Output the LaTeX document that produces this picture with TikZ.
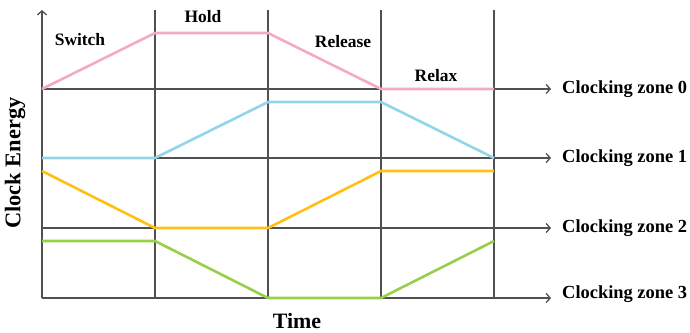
\documentclass[tikz,border=0pt]{standalone}
\usepackage{fontspec}
\setmainfont{Liberation Serif}
\usetikzlibrary{arrows.meta,positioning}
\definecolor{gridgray}{RGB}{80,80,80}
\definecolor{wpink}{RGB}{244,170,192}
\definecolor{wblue}{RGB}{146,212,232}
\definecolor{worange}{RGB}{255,192,20}
\definecolor{wgreen}{RGB}{150,208,70}
\tikzset{
  gridline/.style={draw=gridgray,line width=1.3bp},
  zonearrow/.style={gridline,-{Straight Barb[length=4bp,width=9bp]}},
  wave/.style={line width=2.6bp,line join=round},
  phase/.style={font=\bfseries\fontsize{17.5}{20}\selectfont},
  zonelabel/.style={font=\bfseries\fontsize{18.5}{21}\selectfont,inner sep=1bp}
}
\begin{document}
\begin{tikzpicture}[x=1bp,y=-1bp]
\useasboundingbox (0,0) rectangle (690,332);
% column boundaries
\foreach \i/\x in {0/42,1/155,2/268,3/381,4/494}{
  \coordinate (t\i) at (\x,10);
  \coordinate (b\i) at (\x,298);
}
\foreach \i in {1,...,4}{\draw[gridline] (b\i)--(t\i);}
\draw[zonearrow] (b0)--(t0);
% clocking zones
\foreach \k/\y/\dy in {0/89/0,1/158/0,2/228/0,3/298/4}{
  \coordinate (z\k s) at (42,\y);
  \coordinate (z\k e) at (551,\y);
  \draw[zonearrow] (z\k s)--(z\k e);
  \node[zonelabel,right=10bp of z\k e,yshift=\dy bp] (lab\k) {Clocking zone \k};
}
% clock waveforms
\draw[wave,wpink] (42,89)--(155,33)--(268,33)--(381,89)--(494,89);
\draw[wave,wblue] (42,158)--(155,158)--(268,102)--(381,102)--(494,158);
\draw[wave,worange] (42,171)--(155,228)--(268,228)--(381,171)--(494,171);
\draw[wave,wgreen] (42,241)--(155,241)--(268,298)--(381,298)--(494,241);
% phase names
\node[phase] (sw) at (80,40) {Switch};
\node[phase] (ho) at (203,17) {Hold};
\node[phase] (re) at (343,42) {Release};
\node[phase] (rx) at (436,76) {Relax};
% axis titles
\node[font=\bfseries\fontsize{22}{24}\selectfont] (time) at (297,321) {Time};
\node[font=\bfseries\fontsize{22.5}{25}\selectfont,rotate=90] (energy) at (15,163) {Clock Energy};
\end{tikzpicture}
\end{document}
